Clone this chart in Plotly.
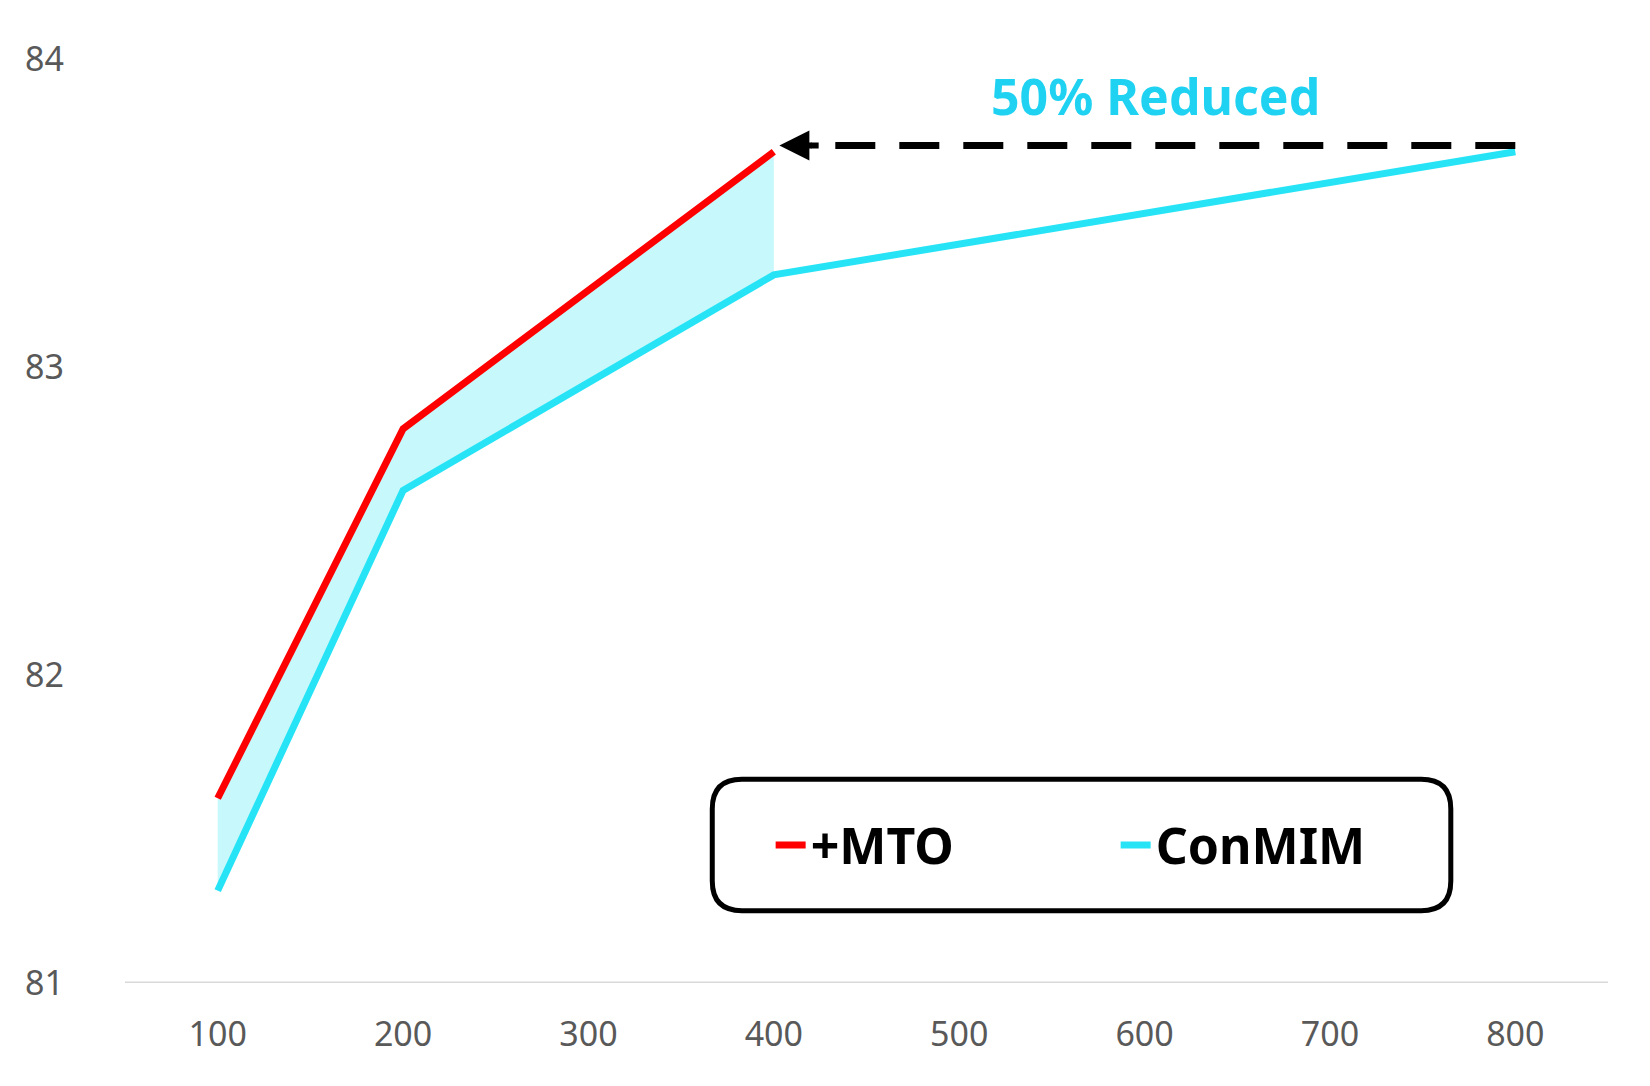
import plotly.graph_objects as go

epochs = [100, 200, 400, 800]
conmim = [81.3, 82.6, 83.3, 83.7]
mto_epochs = [100, 200, 400]
mto = [81.6, 82.8, 83.7]
x_ticks = [100, 200, 300, 400, 500, 600, 700, 800]
y_ticks = [81, 82, 83, 84]

CYAN = "#26e4f6"
RED = "#ff0000"

fig = go.Figure()
fig.add_trace(go.Scatter(x=mto_epochs, y=conmim[:3], mode="lines", line=dict(width=0, color=CYAN),
                         showlegend=False, hoverinfo="skip"))
fig.add_trace(go.Scatter(x=mto_epochs, y=mto, mode="lines", line=dict(width=0, color=RED),
                         fill="tonexty", fillcolor="#c6f8fc", showlegend=False, hoverinfo="skip"))
fig.add_trace(go.Scatter(x=epochs, y=conmim, mode="lines", name="<b>ConMIM</b>",
                         line=dict(color=CYAN, width=7)))
fig.add_trace(go.Scatter(x=mto_epochs, y=mto, mode="lines", name="<b>+MTO</b>",
                         line=dict(color=RED, width=7)))

# dashed arrow
fig.add_shape(type="line", x0=800, x1=420, y0=83.72, y1=83.72, xref="x", yref="y",
              line=dict(color="black", width=7, dash="40px,24px"))
fig.add_annotation(x=403, y=83.72, ax=425, ay=83.72, xref="x", yref="y", axref="x", ayref="y",
                   showarrow=True, arrowhead=2, arrowsize=1, arrowwidth=6, arrowcolor="black", text="")
fig.add_annotation(x=606, y=83.88, xref="x", yref="y", text="<b>50% Reduced</b>", showarrow=False,
                   font=dict(size=50, color="#1fd2f2", family="Noto Sans"))

# legend box
x0, x1, y0, y1, r = 0.396, 0.894, 0.077, 0.217, 0.02
ry = r * 1483 / 939
path = (f"M {x0+r},{y0} L {x1-r},{y0} Q {x1},{y0} {x1},{y0+ry} L {x1},{y1-ry} Q {x1},{y1} {x1-r},{y1} "
        f"L {x0+r},{y1} Q {x0},{y1} {x0},{y1-ry} L {x0},{y0+ry} Q {x0},{y0} {x0+r},{y0} Z")
fig.add_shape(type="path", path=path, xref="paper", yref="paper", line=dict(color="black", width=5),
              fillcolor="white", layer="below")
fig.add_shape(type="line", xref="paper", yref="y", x0=0, x1=1, y0=81, y1=81,
              line=dict(color="#d9d9d9", width=3), layer="below")

fig.update_layout(
    width=1650, height=1086,
    margin=dict(l=117, r=50, t=36, b=111),
    plot_bgcolor="white", paper_bgcolor="white",
    font=dict(family="Noto Sans", color="#595959", size=34),
    legend=dict(orientation="h", x=0.668, y=0.147, xanchor="center", yanchor="middle",
                bgcolor="rgba(0,0,0,0)", font=dict(size=50, color="black", family="Noto Sans"),
                entrywidthmode="pixels", entrywidth=300),
    xaxis=dict(range=[50, 850], tickvals=x_ticks, showgrid=False, zeroline=False,
               showline=False, ticks="", tickfont=dict(size=34, color="#595959"), ticklabelstandoff=28),
    yaxis=dict(range=[81, 84.05], tickvals=y_ticks, showgrid=False, zeroline=False,
               showline=False, ticks="", tickfont=dict(size=34, color="#595959"), ticklabelstandoff=60),
)
fig.write_html("out.html")
